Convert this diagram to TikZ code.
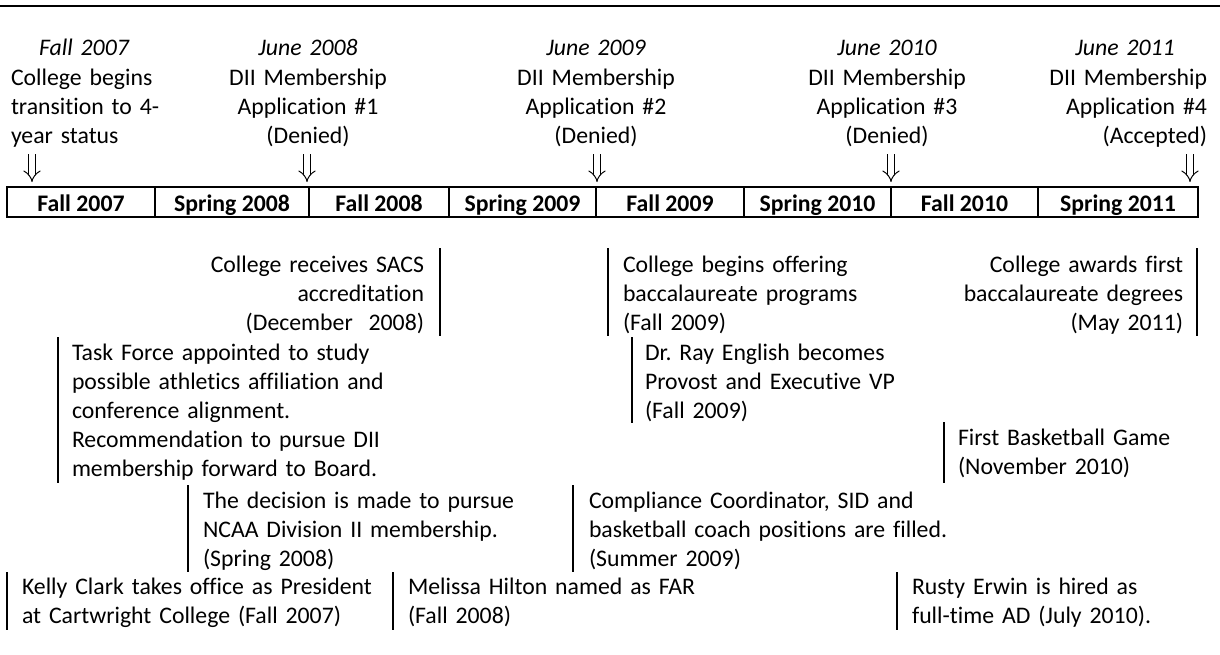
\documentclass[tikz,border=0pt]{standalone}
\usepackage{fontspec}
\setmainfont{Carlito}[Ligatures={TeX,NoCommon}]
\usetikzlibrary{arrows.meta}
\frenchspacing
\begin{document}
\begin{tikzpicture}[x=0.463pt,y=-0.463pt,
  every node/.style={inner sep=0pt,outer sep=0pt,font=\fontsize{11}{13.43}\selectfont},
  bar/.style={line width=0.75pt},
  frame/.style={line width=0.95pt},
  evl/.style={anchor=base west,text width=200pt,align=left},
  evr/.style={anchor=base east,text width=200pt,align=right},
  hdr/.style={anchor=base,text width=90pt,align=center},
  cell/.style={anchor=base,font=\fontsize{11}{13.43}\selectfont\bfseries},
  darrow/.style={line width=0.45pt,double distance=2.4pt,-{Implies[length=4.5pt,width=8pt]}},
]
\useasboundingbox (0,0) rectangle (1220,655);
% top rule
\coordinate (rl) at (0,6);
\coordinate (rr) at (1220,6);
\draw[line width=1.05pt] (rl) -- (rr);

% header texts
\node[anchor=base west,text width=100pt,align=left] (h1) at (11,56)
  {\makebox[67.6pt][c]{\itshape Fall 2007}\\College begins\\transition to 4-\\year status};
\node[hdr] (h2) at (308,56) {{\itshape June 2008}\\DII Membership\\Application \#1\\(Denied)};
\node[hdr] (h3) at (596,56) {{\itshape June 2009}\\DII Membership\\Application \#2\\(Denied)};
\node[hdr] (h4) at (887,56) {{\itshape June 2010}\\DII Membership\\Application \#3\\(Denied)};
\node[anchor=base east,text width=100pt,align=right] (h5) at (1207,56)
  {\makebox[75.9pt][c]{\itshape June 2011}\\DII Membership\\Application \#4\\(Accepted)};

% arrows
\foreach \i/\x in {1/32,2/307,3/597,4/891,5/1190}{
  \coordinate (a\i t) at (\x,154);
  \coordinate (a\i b) at (\x,182);
  \draw[darrow] (a\i t) -- (a\i b);
}

% timeline
\draw[frame] (7,187) rectangle (1198,217);
\foreach \x in {155,309,449,596,744,891,1038}{
  \draw[frame] (\x,187) -- (\x,217);
}
\node[cell] (c1) at (81,211) {Fall 2007};
\node[cell] (c2) at (232,211) {Spring 2008};
\node[cell] (c3) at (379,211) {Fall 2008};
\node[cell] (c4) at (522.5,211) {Spring 2009};
\node[cell] (c5) at (670,211) {Fall 2009};
\node[cell] (c6) at (817.5,211) {Spring 2010};
\node[cell] (c7) at (964.5,211) {Fall 2010};
\node[cell] (c8) at (1118,211) {Spring 2011};

% events
\node[evr] (e1) at (424,272) {College receives SACS\\accreditation\\(December\ \ 2008)};
\draw[bar] (440,248) -- (440,336);
\node[evl] (e2) at (623,272) {College begins offering\\baccalaureate programs\\(Fall 2009)};
\draw[bar] (608,248) -- (608,336);
\node[evr] (e3) at (1183,272) {College awards first\\baccalaureate degrees\\(May 2011)};
\draw[bar] (1197,248) -- (1197,336);
\node[evl] (e4) at (72,360.5) {Task Force appointed to study\\possible athletics affiliation and\\conference alignment.\\Recommendation to pursue DII\\membership forward to Board.};
\draw[bar] (58,337) -- (58,483);
\node[evl] (e5) at (645,360.5) {Dr. Ray English becomes\\Provost and Executive VP\\(Fall 2009)};
\draw[bar] (632,337) -- (632,423);
\node[evl] (e6) at (958,445.5) {First Basketball Game\\(November 2010)};
\draw[bar] (944,422) -- (944,483);
\node[evl] (e7) at (203,508) {The decision is made to pursue\\NCAA Division II membership.\\(Spring 2008)};
\draw[bar] (188,485) -- (188,572);
\node[evl] (e8) at (589,508) {Compliance Coordinator, SID and\\basketball coach positions are filled.\\(Summer 2009)};
\draw[bar] (573,485) -- (573,572);
\node[evl] (e9) at (22,594.5) {Kelly Clark takes office as President\\at Cartwright College (Fall 2007)};
\draw[bar] (7,572) -- (7,630);
\node[evl] (e10) at (408,594.5) {Melissa Hilton named as FAR\\(Fall 2008)};
\draw[bar] (393,572) -- (393,630);
\node[evl] (e11) at (912,594.5) {Rusty Erwin is hired as\\full-time AD (July 2010).};
\draw[bar] (897,572) -- (897,630);
\end{tikzpicture}
\end{document}
